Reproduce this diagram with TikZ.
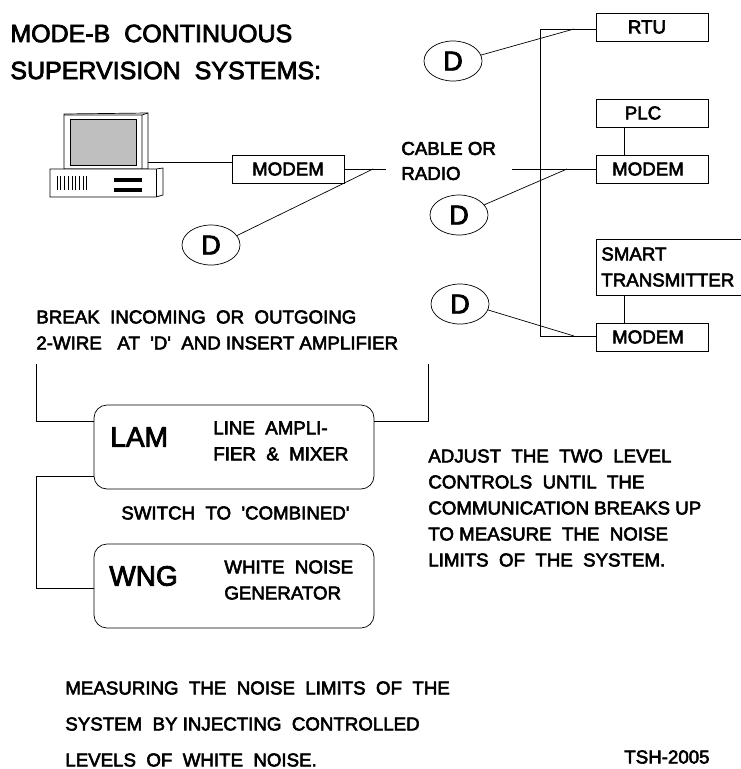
\documentclass[tikz,border=0pt]{standalone}
\usepackage{fontspec}
\setmainfont{Liberation Sans}
\newfontfamily\labelfont[FakeBold=3]{Liberation Sans}
\tikzset{
  every node/.style={font=\labelfont\fontsize{18.7}{26}\selectfont},
  boxnode/.style={draw, minimum width=112pt, minimum height=28pt, inner sep=0pt},
  tapnode/.style={draw, ellipse, minimum width=58pt, minimum height=40pt, inner sep=0pt, font=\labelfont\fontsize{27}{27}\selectfont},
  unitnode/.style={draw, rounded corners=13pt, minimum width=280pt, minimum height=84pt},
  textnode/.style={anchor=west, align=left, inner sep=0pt}
}
\usetikzlibrary{shapes.geometric}
\begin{document}
\begin{tikzpicture}[x=1pt,y=-1pt,line width=0.7pt]
    \useasboundingbox (0,0) rectangle (741,769);
    % title
    \node[textnode, font=\labelfont\fontsize{25}{37}\selectfont] (title) at (10,52) {MODE-B\ \ CONTINUOUS\\SUPERVISION\ \ SYSTEMS:};
    % computer
    \draw[fill=white] (64,114) -- (148,113) -- (148,169) -- (64,169) -- cycle;
    \draw (142,115) -- (142,169) (142,115) -- (148,113) (64,115) -- (142,115);
    \node[draw, fill=black!25, minimum width=66pt, minimum height=46pt, inner sep=0pt] (screen) at (103,142) {};
    \draw[fill=white] (50,169) -- (156,169) -- (163,168) -- (163,195) -- (156,197) -- (50,197) -- cycle;
    \draw (156,169) -- (156,197);
    \foreach \xs in {57,60.7,...,87.5} {\draw[line width=0.6pt] (\xs,176) -- (\xs,190);}
    \fill (114,178) rectangle (142,182);
    \fill (114,188) rectangle (142,192);
    \coordinate (pcport) at (148,162);
    % modems and boxes
    \node[boxnode] (modema) at (288,169) {MODEM};
    \node[boxnode] (rtu) at (652,27) {\hspace{-10pt}RTU};
    \node[boxnode] (plc) at (652,113) {\hspace{-18pt}PLC};
    \node[boxnode] (modemb) at (652,169) {\hspace{-8pt}MODEM};
    \node[boxnode] (modemc) at (652,337) {\hspace{-8pt}MODEM};
    \draw (741,239) -- (596,239) -- (596,295) -- (741,295);
    \node[textnode] (smart) at (601,267) {SMART\\TRANSMITTER};
    \coordinate (smartfoot) at (624,295);
    \node[textnode, font=\labelfont\fontsize{18.7}{25}\selectfont] (cable) at (401,161) {CABLE OR\\RADIO};
    % tap points
    \node[tapnode] (tapa) at (211,245) {D};
    \node[tapnode] (tapb) at (453,61) {D};
    \node[tapnode] (tapc) at (459,215) {D};
    \node[tapnode] (tapd) at (460,304) {D};
    \coordinate (wirea) at (386,169);
    \coordinate (wireb) at (512,169);
    \coordinate (toppin) at (540,29);
    \coordinate (botpin) at (540,336);
    \coordinate (junca) at (373,169);
    \coordinate (juncb) at (574,29);
    \coordinate (juncc) at (567,169);
    \coordinate (juncd) at (574,336);
    \draw (pcport) -- (pcport -| modema.west);
    \draw (modema.east |- wirea) -- (wirea);
    \draw (wireb) -- (modemb.west);
    \draw (botpin) -- (toppin) -- (toppin -| rtu.west);
    \draw (botpin) -- (botpin -| modemc.west);
    \draw (tapa.20) -- (junca);
    \draw (tapb.12) -- (juncb);
    \draw (tapc.22) -- (juncc);
    \draw (tapd.-12) -- (juncd);
    \draw (smartfoot |- plc.south) -- (smartfoot |- modemb.north);
    \draw (smartfoot) -- (smartfoot |- modemc.north);
    % amplifier
    \node[textnode] (breaktext) at (36,330) {BREAK\ \ INCOMING\ \ OR\ \ OUTGOING\\2-WIRE\ \ \ AT\ \ 'D'\ \ AND INSERT AMPLIFIER};
    \node[unitnode] (lam) at (234,447) {};
    \node[unitnode] (wng) at (234,586) {};
    \node[textnode, font=\labelfont\fontsize{28}{28}\selectfont] (lamname) at (110,437) {LAM};
    \node[textnode] (lamtext) at (213,441) {LINE\ \ AMPLI-\\FIER\ \ \&\ \ MIXER};
    \node[textnode] (switchtext) at (121,513) {SWITCH\ \ TO\ \ 'COMBINED'};
    \node[textnode, font=\labelfont\fontsize{28}{28}\selectfont] (wngname) at (109,576) {WNG};
    \node[textnode] (wngtext) at (224,580) {WHITE\ \ NOISE\\GENERATOR};
    \coordinate (breakl) at (36,364);
    \coordinate (breakr) at (428,364);
    \coordinate (loopl) at (36,476);
    \draw (breakl) -- (36,421) -- (94,421);
    \draw (breakr) -- (428,421) -- (374,421);
    \draw (94,476) -- (loopl) -- (36,588) -- (94,588);
    % notes
    \node[textnode] (adjust) at (428,508) {ADJUST\ \ THE\ \ TWO\ \ LEVEL\\CONTROLS\ \ UNTIL\ \ THE\\COMMUNICATION BREAKS UP\\TO MEASURE\ \ THE\ \ NOISE\\LIMITS\ \ OF\ \ THE\ \ SYSTEM.};
    \node[textnode, font=\labelfont\fontsize{18.7}{36}\selectfont] (measure) at (65,724) {MEASURING\ \ THE\ \ NOISE\ \ LIMITS\ \ OF\ \ THE\\SYSTEM\ \ BY INJECTING\ \ CONTROLLED\\LEVELS\ \ OF\ \ WHITE\ \ NOISE.};
    \node[textnode] (tsh) at (624,757) {TSH-2005};
\end{tikzpicture}
\end{document}
